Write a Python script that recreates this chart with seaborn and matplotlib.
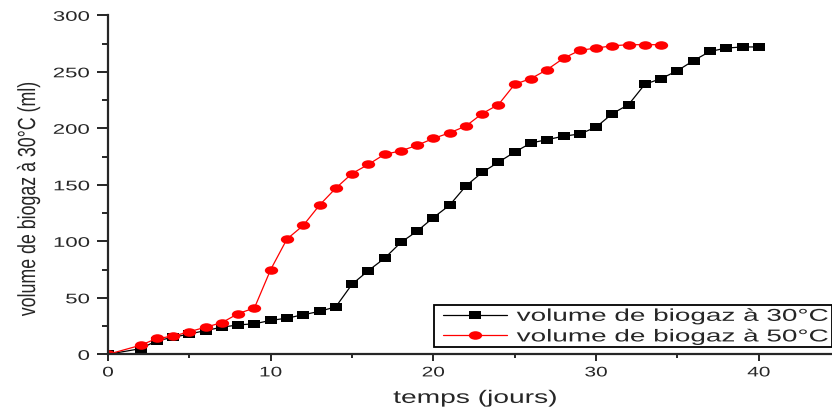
import numpy as np
import pandas as pd
import matplotlib
matplotlib.use("Agg")
import matplotlib.pyplot as plt
import seaborn as sns
from matplotlib.path import Path
from matplotlib.markers import MarkerStyle
from matplotlib.patches import Rectangle
from matplotlib.patheffects import AbstractPathEffect
from matplotlib.transforms import Affine2D
from matplotlib.ticker import MultipleLocator

# Cumulative biogas volume (ml) per day
days_30 = [0, 2, 3, 4, 5, 6, 7, 8, 9, 10, 11, 12, 13, 14, 15, 16, 17, 18, 19, 20,
           21, 22, 23, 24, 25, 26, 27, 28, 29, 30, 31, 32, 33, 34, 35, 36, 37, 38, 39, 40]
vol_30 = [0, 5, 12, 15, 18, 21, 24, 26, 27, 30, 32, 35, 38, 42, 62, 74, 85, 99, 109, 121,
          132, 149, 161, 170, 179, 187, 190, 193, 195, 201, 213, 221, 239, 244, 251, 260, 268, 271, 272, 272]

days_50 = [0, 2, 3, 4, 5, 6, 7, 8, 9, 10, 11, 12, 13, 14, 15, 16, 17, 18, 19, 20,
           21, 22, 23, 24, 25, 26, 27, 28, 29, 30, 31, 32, 33, 34]
vol_50 = [0, 8, 14, 16, 20, 24, 28, 36, 41, 75, 102, 114, 132, 147, 160, 168, 177, 180, 185, 191,
          196, 202, 213, 221, 239, 244, 252, 262, 269, 271, 273, 274, 274, 274]

series_labels = ["volume de biogaz à 30°C", "volume de biogaz à 50°C"]
x_ticks = [0, 10, 20, 30, 40]
y_ticks = [0, 50, 100, 150, 200, 250, 300]
x_label = "temps (jours)"
y_label = "volume de biogaz à 30°C (ml)"


class Stretch(AbstractPathEffect):
    """Draw text glyphs scaled along/across the text direction around an anchor."""

    def __init__(self, sx=1.0, sy=1.0, anchor="center"):
        super().__init__()
        self.sx = sx
        self.sy = sy
        self.anchor = anchor

    def draw_path(self, renderer, gc, tpath, affine, rgbFace=None):
        ext = tpath.get_extents()
        if self.anchor == "left":
            cx = ext.x0
        elif self.anchor == "right":
            cx = ext.x1
        else:
            cx = 0.5 * (ext.x0 + ext.x1)
        cy = 0.5 * (ext.y0 + ext.y1)
        t = (Affine2D().translate(-cx, -cy).scale(self.sx, self.sy).translate(cx, cy)
             + affine)
        renderer.draw_path(gc, tpath, t, rgbFace)


sns.set_style("ticks")
plt.rcParams["font.family"] = ["Liberation Sans", "DejaVu Sans"]

# Flattened marker shapes
square = MarkerStyle(Path([(-1, -0.62), (1, -0.62), (1, 0.62), (-1, 0.62), (-1, -0.62)],
                          [Path.MOVETO, Path.LINETO, Path.LINETO, Path.LINETO, Path.CLOSEPOLY]))
ellipse = MarkerStyle(Path.unit_circle().transformed(Affine2D().scale(1.0, 0.64)))

fig = plt.figure(figsize=(8.32, 4.12), dpi=100)
ax = fig.add_axes([108 / 832, 57.7 / 412, 724 / 832, 339 / 412])

df30 = pd.DataFrame({"jour": days_30, "volume": vol_30})
df50 = pd.DataFrame({"jour": days_50, "volume": vol_50})

sns.lineplot(data=df30, x="jour", y="volume", ax=ax, color="black", lw=0.9,
             marker=square, markersize=8.7, markeredgewidth=0, label=series_labels[0])
sns.lineplot(data=df50, x="jour", y="volume", ax=ax, color="#ff0000", lw=0.9,
             marker=ellipse, markersize=9.6, markeredgewidth=0, label=series_labels[1])

ax.set_xlim(0, 44.5)
ax.set_ylim(0, 300)
ax.set_xticks(x_ticks)
ax.set_yticks(y_ticks)
ax.xaxis.set_minor_locator(MultipleLocator(5))
ax.yaxis.set_minor_locator(MultipleLocator(25))

for side in ("top", "right"):
    ax.spines[side].set_visible(False)
for side in ("left", "bottom"):
    ax.spines[side].set_linewidth(1.6)

ax.tick_params(axis="y", which="major", length=7.7, width=1.4, pad=5.5, labelsize=10, direction="out")
ax.tick_params(axis="y", which="minor", length=4.0, width=1.4, direction="out")
ax.tick_params(axis="x", which="major", length=5.0, width=1.4, pad=3.0, labelsize=10, direction="out")
ax.tick_params(axis="x", which="minor", length=2.6, width=1.4, direction="out")

ax.set_xlabel(x_label, fontsize=13)
ax.set_ylabel(y_label, fontsize=12.8, va="center")
ax.xaxis.set_label_coords(0.507, -0.105)
ax.yaxis.set_label_coords(-0.1095, 0.4575)
ax.xaxis.label.set_path_effects([Stretch(sx=1.56, anchor="center")])
ax.yaxis.label.set_path_effects([Stretch(sy=1.39, anchor="center")])

for lbl in ax.get_xticklabels():
    lbl.set_path_effects([Stretch(sx=1.5, anchor="center")])
for lbl in ax.get_yticklabels():
    lbl.set_path_effects([Stretch(sx=1.6, anchor="right")])

# Legend box in the lower right corner
frame = Rectangle((326 / 724, 7.3 / 339), 398 / 724, 42 / 339, transform=ax.transAxes,
                  facecolor="white", edgecolor="black", lw=1.3, clip_on=False, zorder=4)
ax.add_patch(frame)
leg = ax.legend(loc="upper left", bbox_to_anchor=(335 / 724, 45.5 / 339), frameon=False,
                fontsize=12.4, borderpad=0, borderaxespad=0, handlelength=3.7,
                handletextpad=0.58, labelspacing=0.32)
leg.set_zorder(5)
for txt in leg.get_texts():
    txt.set_path_effects([Stretch(sx=1.62, anchor="left")])

fig.savefig("out.png", dpi=100)
